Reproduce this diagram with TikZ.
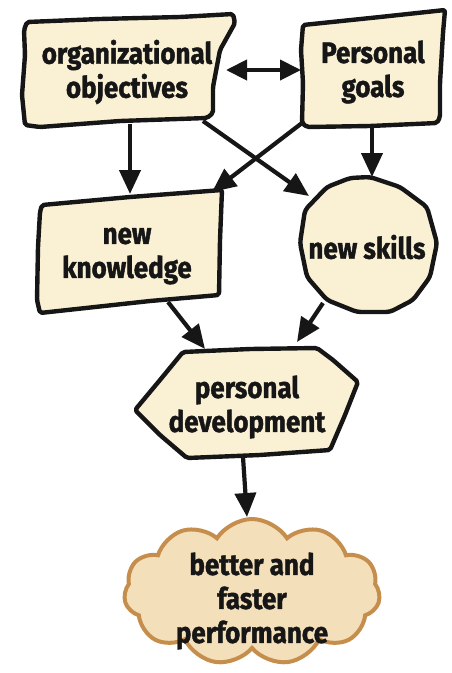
\documentclass[tikz,border=0pt]{standalone}
\usepackage{fontspec}
\setmainfont{Fira Sans}[FakeStretch=0.88,BoldFeatures={FakeBold=1.4}]
\usetikzlibrary{arrows.meta,shapes.symbols}
\definecolor{paper}{RGB}{250,241,213}
\definecolor{cloudfill}{RGB}{244,223,187}
\definecolor{cloudline}{RGB}{198,142,76}
\definecolor{ink}{RGB}{22,22,22}
\tikzset{
  outline/.style={draw=ink,line width=4.4pt,fill=paper,line join=round,rounded corners=2pt},
  txt/.style={inner sep=0pt,align=center,text=ink,font=\fontsize{29.5}{34}\selectfont\bfseries},
  conn/.style={draw=ink,line width=4.2pt,-{Triangle[length=24pt,width=21pt]}},
  biconn/.style={draw=ink,line width=4.2pt,{Triangle[length=21pt,width=20pt]}-{Triangle[length=21pt,width=20pt]}},
  puffy/.style={cloud,cloud puffs=11,cloud puff arc=115,aspect=1.75,
    minimum width=256pt,minimum height=146pt,draw=cloudline,line width=4pt,
    fill=cloudfill,inner sep=0pt}
}
\begin{document}
\begin{tikzpicture}[x=1pt,y=-1pt]
\useasboundingbox (0,0) rectangle (452,673);

% hand-drawn outlines
\path[outline] (27,22) -- (100,19) -- (180,17) -- (233,14) -- (235,23) -- (220,50)
  -- (213,87) -- (213,113) -- (207,118) -- (120,121) -- (40,127) -- (25,125)
  -- (22,95) -- (25,55) -- (24,30) -- cycle;
\path[outline] (303,25) -- (380,17) -- (445,10) -- (443,33) -- (440,83) -- (440,117)
  -- (437,123) -- (370,126) -- (307,127) -- (302,123) -- (303,83) -- (301,50) -- cycle;
\path[outline] (42,205) -- (130,197) -- (222,190) -- (220,240) -- (219,295)
  -- (150,301) -- (40,313) -- (37,300) -- (38,247) -- (40,212) -- cycle;
\path[outline,rounded corners=4pt] (370,177) -- (400,187) -- (427,207) -- (437,243)
  -- (430,277) -- (413,300) -- (390,312) -- (357,312) -- (327,300) -- (307,277)
  -- (300,243) -- (305,210) -- (327,187) -- (350,178) -- cycle;
\path[outline] (183,352) -- (250,349) -- (317,348) -- (333,360) -- (358,382)
  -- (345,415) -- (330,450) -- (260,455) -- (187,458) -- (160,435) -- (135,410)
  -- (160,380) -- cycle;

% nodes
\node[txt,minimum width=210pt,minimum height=112pt] (org) at (127,72)
  {organizational\\objectives};
\node[txt,minimum width=142pt,minimum height=118pt] (pers) at (373,72)
  {Personal\\goals};
\node[txt,minimum width=186pt,minimum height=124pt] (know) at (127,256)
  {new\\knowledge};
\node[txt,minimum width=138pt,minimum height=136pt] (skills) at (367,247)
  {new skills};
\node[txt,minimum width=226pt,minimum height=110pt] (dev) at (247,407)
  {personal\\development};
\node[puffy,label={[txt,yshift=-9pt]center:{better and\\faster\\performance}}]
  (perf) at (252,592) {};

% connectors
\draw[biconn] ([shift={(99,-2)}]org.center) -- ([shift={(-72,-2)}]pers.center);
\draw[conn] ([shift={(3,52)}]org.center) -- ([shift={(3,-62)}]know.center);
\draw[conn] ([shift={(76,49)}]org.center) -- ([shift={(-58,-51)}]skills.center);
\draw[conn] ([shift={(-71,51)}]pers.center) -- ([shift={(85,-64)}]know.center);
\draw[conn] ([shift={(-1,56)}]pers.center) -- ([shift={(5,-70)}]skills.center);
\draw[conn] ([shift={(41,46)}]know.center) -- ([shift={(-42,-58)}]dev.center);
\draw[conn] ([shift={(-44,56)}]skills.center) -- ([shift={(50,-65)}]dev.center);
\draw[conn] ([shift={(-4,50)}]dev.center) -- ([shift={(-5,-75)}]perf.center);
\end{tikzpicture}
\end{document}
